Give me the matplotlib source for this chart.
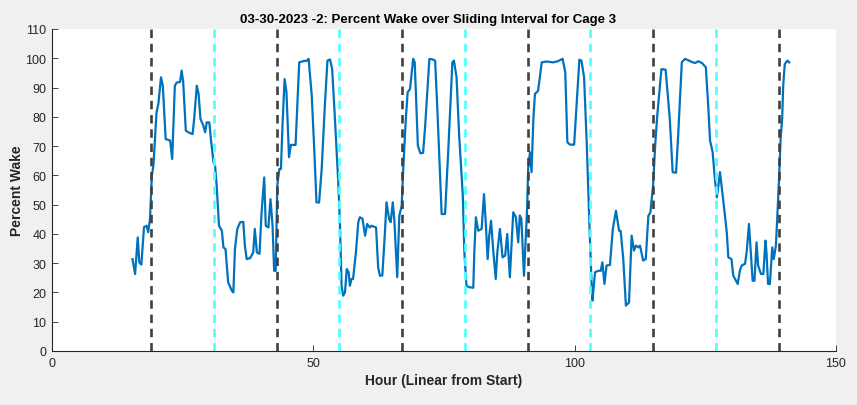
import matplotlib
matplotlib.use('Agg')
import matplotlib.pyplot as plt

plt.rcParams['font.family'] = ['Liberation Sans', 'DejaVu Sans']

# sliding-interval percent wake
hours = [15.4, 15.9, 16.4, 16.7, 17.1, 17.6, 18.1, 18.4, 18.75, 19.1, 19.4, 19.7, 20.0, 20.35, 20.85, 21.2,
         21.75, 22.6, 23.0, 23.5, 23.85, 24.5, 24.8, 25.1, 25.6, 26.1, 26.9, 27.2, 27.7, 28.05, 28.4, 28.95,
         29.3, 29.6, 30.1, 30.4, 30.9, 31.2, 31.5, 31.95, 32.5, 32.8, 33.2, 33.7, 34.4, 34.7, 35.0, 35.45,
         36.0, 36.6, 36.9, 37.25, 37.9, 38.5, 38.8, 39.2, 39.7, 40.1, 40.6, 40.9, 41.4, 41.8, 42.2, 42.5,
         42.8, 43.1, 43.5, 43.8, 44.1, 44.5, 44.85, 45.35, 45.7, 46.6, 47.3, 48.05, 48.8, 49.1, 49.7, 50.2,
         50.6, 51.1, 51.6, 52.2, 52.7, 53.2, 53.6, 54.1, 54.8, 55.1, 55.4, 55.7, 56.05, 56.4, 56.75, 57.0,
         57.3, 57.6, 58.15, 58.6, 58.9, 59.4, 59.9, 60.3, 60.8, 61.1, 62.0, 62.4, 62.75, 63.2, 63.7, 64.0,
         64.5, 64.8, 65.2, 65.5, 66.05, 66.45, 66.9, 67.2, 67.7, 68.05, 68.5, 69.1, 69.4, 70.0, 70.5, 71.0,
         71.4, 72.2, 72.8, 73.3, 73.7, 74.55, 75.2, 75.8, 76.6, 76.9, 77.4, 77.9, 78.6, 78.9, 79.3, 79.8,
         80.6, 80.8, 81.1, 81.55, 82.2, 82.65, 82.95, 83.35, 83.65, 84.0, 84.45, 84.9, 85.2, 85.7, 86.2, 86.7,
         87.1, 87.6, 88.25, 88.75, 89.2, 89.5, 89.8, 90.3, 90.7, 90.9, 91.1, 91.45, 91.75, 92.1, 92.4, 93.0,
         93.7, 94.6, 95.9, 96.8, 97.7, 98.2, 98.6, 99.1, 99.9, 100.4, 100.9, 101.3, 101.8, 102.3, 102.9, 103.25,
         103.4, 103.9, 104.5, 105.0, 105.3, 105.7, 106.1, 106.75, 107.3, 107.9, 108.5, 108.8, 109.3, 109.8, 110.4, 110.9,
         111.35, 111.7, 112.2, 112.5, 113.1, 113.6, 114.1, 114.5, 114.7, 115.0, 115.4, 115.8, 116.6, 117.4, 118.2, 118.75,
         119.4, 119.8, 120.5, 121.1, 121.9, 122.6, 123.1, 123.65, 124.4, 125.1, 125.55, 125.9, 126.4, 126.8, 127.2, 127.5,
         127.8, 128.1, 128.4, 129.1, 129.4, 130.0, 130.35, 131.2, 131.6, 131.95, 132.6, 132.9, 133.35, 133.7, 134.05, 134.4,
         134.8, 135.1, 135.65, 136.1, 136.5, 136.7, 137.0, 137.35, 137.8, 138.1, 138.5, 138.75, 139.1, 139.4, 139.7, 139.9,
         140.2, 140.7, 141.05]
wake = [31.4, 26.3, 38.8, 30.3, 29.5, 42.3, 42.8, 40.6, 45.1, 59.9, 63.3, 72.4, 81.5, 84.4, 93.5, 90.6,
        72.4, 71.9, 65.6, 90.6, 91.7, 91.9, 95.8, 91.9, 75.3, 74.7, 74.1, 79.3, 90.6, 87.8, 79.3, 77.0,
        74.7, 78.1, 78.1, 72.4, 64.5, 63.3, 56.5, 42.8, 41.1, 35.4, 34.8, 23.5, 20.6, 20.0, 34.8, 41.7,
        44.0, 44.1, 36.0, 31.4, 31.7, 33.7, 41.7, 33.7, 33.2, 47.4, 59.3, 42.8, 42.2, 51.9, 42.8, 27.4,
        27.4, 56.5, 62.2, 62.2, 77.0, 92.9, 88.6, 66.2, 70.4, 70.4, 98.6, 99.0, 99.2, 99.8, 87.2, 67.9,
        50.8, 50.7, 62.2, 83.8, 99.2, 99.6, 96.3, 80.4, 56.5, 42.8, 22.3, 18.9, 20.0, 28.0, 26.9, 22.3,
        24.6, 24.6, 33.7, 44.0, 45.7, 45.2, 39.4, 43.4, 42.2, 42.8, 42.2, 28.6, 25.7, 25.8, 40.6, 50.8,
        45.1, 44.0, 50.8, 44.6, 25.2, 46.2, 49.6, 62.2, 79.3, 88.4, 89.5, 99.8, 98.6, 70.1, 67.5, 67.7,
        77.0, 99.8, 99.6, 99.2, 83.8, 46.8, 46.8, 67.9, 98.6, 99.2, 93.5, 73.6, 53.1, 33.7, 22.3, 21.8,
        21.6, 33.7, 45.7, 41.1, 41.7, 53.6, 45.1, 31.4, 39.4, 44.5, 33.7, 24.6, 33.7, 41.7, 32.0, 32.6,
        40.0, 25.2, 47.4, 45.7, 37.1, 46.3, 45.1, 25.7, 40.6, 48.5, 62.2, 67.9, 61.1, 79.3, 87.8, 88.9,
        98.6, 98.9, 98.6, 99.0, 99.8, 95.2, 71.3, 70.5, 70.5, 85.0, 99.5, 99.2, 93.5, 71.3, 39.4, 22.3,
        17.2, 26.9, 27.4, 27.4, 30.3, 22.9, 29.2, 29.4, 41.7, 47.9, 41.1, 41.0, 31.4, 15.5, 16.6, 39.4,
        34.3, 36.0, 35.4, 36.0, 30.9, 31.4, 46.2, 47.4, 51.3, 56.5, 70.1, 80.4, 96.3, 96.1, 79.3, 61.1,
        60.9, 73.6, 98.6, 99.8, 99.2, 98.6, 98.4, 99.0, 98.3, 96.9, 83.8, 71.9, 67.9, 59.3, 52.5, 56.5,
        61.1, 56.5, 51.9, 40.6, 32.0, 31.4, 25.7, 22.9, 27.4, 29.2, 29.8, 33.7, 43.4, 33.7, 24.0, 24.0,
        37.1, 29.2, 26.3, 26.3, 37.7, 33.7, 22.9, 22.9, 35.4, 31.4, 36.0, 45.1, 58.8, 72.4, 79.3, 90.6,
        98.0, 99.2, 98.6]

lights_off = [19, 43, 67, 91, 115, 139]   # dark dashed
lights_on = [31, 55, 79, 103, 127]        # cyan dashed

fig = plt.figure(figsize=(8.57, 4.06), dpi=100, facecolor='#f0f0f0')
ax = fig.add_axes([52/857, 54/406, 784/857, 322/406])
ax.set_facecolor('white')

ax.plot(hours, wake, color='#0072BD', lw=1.6, zorder=2)
for x in lights_off:
    ax.plot([x, x], [0, 110], color='#404040', lw=1.9, ls=(0, (3.2, 2.2)), zorder=3)
for x in lights_on:
    ax.plot([x, x], [0, 110], color='#4dffff', lw=1.9, ls=(0, (3.2, 2.2)), zorder=3)

ax.set_xlim(0, 150)
ax.set_ylim(0, 110)
ax.set_xticks([0, 50, 100, 150])
ax.set_yticks(range(0, 111, 10))
for s in ['top', 'right']:
    ax.spines[s].set_visible(False)
for s in ['left', 'bottom']:
    ax.spines[s].set_color('#262626')
    ax.spines[s].set_linewidth(0.8)
ax.tick_params(direction='in', length=4.5, width=0.6, colors='#262626', labelsize=9, pad=4)

# title sits centred on the figure, not the axes
ax.set_title('03-30-2023 -2: Percent Wake over Sliding Interval for Cage 3',
             fontsize=9.5, fontweight='bold', color='black', pad=5, x=0.48)
ax.set_xlabel('Hour (Linear from Start)', fontsize=10, fontweight='bold', color='#262626', labelpad=3)
ax.set_ylabel('Percent Wake', fontsize=10, fontweight='bold', color='#262626', labelpad=1)

fig.savefig('out.png', dpi=100, facecolor=fig.get_facecolor())
